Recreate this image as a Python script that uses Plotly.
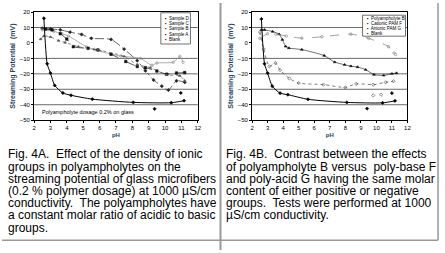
import plotly.graph_objects as go

# ---------------- data: Fig 4A ----------------
a_blank_x = [2.6, 2.8, 3.0, 3.26, 3.76, 4.26, 5.56, 8.06, 10.38, 11.16]
a_blank_y = [16, -13.5, -19.5, -27.5, -32.4, -33.9, -36.4, -38.5, -38.7, -37.4]
a_blank_out_x = [9.36, 10.96]
a_blank_out_y = [-42.7, -32.4]

a_d_x = [2.5, 3.0, 3.6, 4.2, 4.9, 5.5, 6.7, 7.5, 8.3, 8.8, 9.3, 9.8, 10.2, 10.7, 11.2]
a_d_y = [9.5, 9.0, 8.5, 7.0, 5.5, 3.0, 2.3, -4.0, -11.5, -18.0, -24.0, -28.0, -30.5, -24.5, -25.5]

a_c_x = [2.5, 3.2, 3.7, 4.1, 5.2, 5.7, 7.3, 8.5, 9.2, 9.5, 10.5, 10.9, 11.1]
a_c_y = [8.5, 7.5, 6.0, 4.5, -2.5, -4.5, -8.5, -10.0, -14.5, -13.0, -12.5, -8.7, -12.5]

a_b_x = [2.7, 3.1, 3.6, 4.0, 4.4, 5.3, 5.9, 6.7, 7.6, 8.3, 8.8, 9.5, 10.1, 10.7, 11.2]
a_b_y = [9.0, 8.5, 6.0, 2.5, -2.4, -3.5, -4.5, -7.3, -12.0, -15.2, -16.0, -18.2, -20.2, -19.5, -19.2]

a_a_x = [2.4, 2.6, 3.0, 3.5, 3.9, 4.7, 5.9, 7.5, 8.3, 9.1, 10.1, 10.9, 11.2]
a_a_y = [2.5, 4.5, 3.9, 1.5, 0.3, -2.4, -4.5, -8.7, -14.0, -16.0, -20.7, -21.3, -24.4]

# ---------------- data: Fig 4B ----------------
b_b_x = [2.6, 2.8, 3.32, 3.74, 3.95, 4.16, 4.37, 5.2, 6.64, 7.32, 7.95, 8.36, 8.79, 9.31, 9.84, 10.47, 11.0, 11.3]
b_b_y = [8.5, 8.5, 7.4, 5.7, 2.1, -2.2, -3.3, -4.3, -8.2, -12.4, -14.1, -15.0, -15.6, -17.3, -20.5, -21.0, -19.9, -19.5]

b_f_x = [2.5, 3.0, 3.53, 4.2, 5.2, 6.5, 8.36, 9.5, 10.78, 11.14, 11.24]
b_f_y = [3.0, 6.0, 5.7, 4.5, 3.1, 4.0, 5.7, 3.0, -2.4, -6.5, -7.5]

b_g_x = [2.5, 2.75, 3.11, 3.5, 3.8, 4.4, 5.0, 6.6, 8.0, 8.7, 9.8, 10.6, 11.1]
b_g_y = [7.0, -4.0, -15.2, -13.0, -17.5, -23.0, -26.0, -27.0, -28.8, -26.5, -27.0, -25.5, -24.8]
b_g_out_x = [9.8, 10.3]
b_g_out_y = [-34.0, -33.5]

b_blank_x = [2.6, 2.8, 3.0, 3.3, 3.8, 4.3, 5.6, 8.1, 10.4, 11.2]
b_blank_y = [15.5, -13.5, -19.5, -28.0, -32.5, -33.5, -36.5, -38.5, -38.8, -37.5]
b_blank_out_x = [9.4, 11.0]
b_blank_out_y = [-42.5, -32.5]

x_ticks = [2, 3, 4, 5, 6, 7, 8, 9, 10, 11, 12]
y_ticks = [20, 10, 0, -10, -20, -30, -40, -50]
grid_vals = [10, -10, -20, -30, -40]

legend_a = ["Sample D", "Sample C", "Sample B", "Sample A", "Blank"]
legend_b = ["Polyampholyte B", "Cationic PAM F", "Anionic PAM G", "Blank"]

caption_a = [
    "Fig. 4A.  Effect of the density of ionic",
    "groups in polyampholytes on the",
    "streaming potential of glass microfibers",
    "(0.2 % polymer dosage) at 1000 µS/cm",
    "conductivity.  The polyampholytes have",
    "a constant molar ratio of acidic to basic",
    "groups.",
]
caption_b = [
    "Fig. 4B.  Contrast between the effects",
    "of polyampholyte B versus  poly-base F",
    "and poly-acid G having the same molar",
    "content of either positive or negative",
    "groups.  Tests were performed at 1000",
    "µS/cm conductivity.",
]

W, H = 445, 253
FONT = "Liberation Sans, Arial, sans-serif"
fig = go.Figure()


def add(x, y, xa, ya, dash="solid", color="black", sym="circle", msize=2.5, mode="lines+markers", lw=0.7):
    fig.add_trace(go.Scatter(
        x=x, y=y, xaxis=xa, yaxis=ya, mode=mode,
        line=dict(color=color, width=lw, dash=dash, shape="spline", smoothing=0.6),
        marker=dict(symbol=sym, size=msize, color=color, line=dict(color=color, width=0.6)),
        showlegend=False, hoverinfo="skip"))


# Fig A
add(a_d_x, a_d_y, "x", "y", dash="dashdot", color="#222", sym="diamond")
add(a_c_x, a_c_y, "x", "y", dash="solid", color="#888", sym="circle-open")
add(a_b_x, a_b_y, "x", "y", dash="dash", color="#111", sym="square")
add(a_a_x, a_a_y, "x", "y", dash="dot", color="#555", sym="triangle-up")
add(a_blank_x, a_blank_y, "x", "y", dash="solid", color="black", sym="diamond", lw=1)
add(a_blank_out_x, a_blank_out_y, "x", "y", color="black", sym="diamond", mode="markers")

# Fig B
add(b_b_x, b_b_y, "x2", "y2", dash="solid", color="#111", sym="triangle-up", lw=0.6)
add(b_f_x, b_f_y, "x2", "y2", dash="dash", color="#777", sym="circle-open")
add(b_g_x, b_g_y, "x2", "y2", dash="dot", color="#444", sym="diamond-open")
add(b_g_out_x, b_g_out_y, "x2", "y2", color="#444", sym="diamond-open", mode="markers")
add(b_blank_x, b_blank_y, "x2", "y2", dash="solid", color="black", sym="diamond", lw=1)
add(b_blank_out_x, b_blank_out_y, "x2", "y2", color="black", sym="diamond", mode="markers")

# plot geometry (pixels)
A_L, A_R = 32.5, 198.5
B_L, B_R = 253.5, 411.0
P_T, P_B = 9.3, 120.0


def px(v):
    return v / W


def py(v):
    return 1 - v / H


tickfont = dict(family=FONT, size=6, color="black")
axis_common = dict(range=[2, 12], tickvals=x_ticks, showline=True, linecolor="black", linewidth=1,
                   mirror=True, ticks="outside", ticklen=2, tickcolor="black", showgrid=False,
                   zeroline=False, tickfont=tickfont, title=dict(text="<b>pH</b>", font=dict(family=FONT, size=6), standoff=2))
yaxis_common = dict(range=[-50, 20], tickvals=y_ticks, showline=True, linecolor="black", linewidth=1,
                    mirror=True, ticks="outside", ticklen=2, tickcolor="black", showgrid=False,
                    zeroline=False, tickfont=tickfont,
                    title=dict(text="<b>Streaming Potential  (mV)</b>", font=dict(family=FONT, size=7), standoff=3))

fig.update_layout(
    width=W, height=H, margin=dict(l=0, r=0, t=0, b=0),
    paper_bgcolor="white", plot_bgcolor="white",
    xaxis=dict(domain=[px(A_L), px(A_R)], anchor="y", **axis_common),
    yaxis=dict(domain=[py(P_B), py(P_T)], anchor="x", **yaxis_common),
    xaxis2=dict(domain=[px(B_L), px(B_R)], anchor="y2", **axis_common),
    yaxis2=dict(domain=[py(P_B), py(P_T)], anchor="x2", **yaxis_common),
)

shapes = []
for xa, ya in (("x", "y"), ("x2", "y2")):
    for g in grid_vals:
        shapes.append(dict(type="line", xref=xa + " domain", yref=ya, x0=0, x1=1, y0=g, y1=g,
                           line=dict(color="#444", width=0.8), layer="below"))

# table borders
shapes.append(dict(type="line", xref="paper", yref="paper", x0=px(221.5), x1=px(221.5), y0=0, y1=1,
                   line=dict(color="#999", width=2)))
shapes.append(dict(type="line", xref="paper", yref="paper", x0=px(442), x1=px(442), y0=py(243), y1=1,
                   line=dict(color="#999", width=1.5)))
shapes.append(dict(type="line", xref="paper", yref="paper", x0=0, x1=px(442), y0=py(243), y1=py(243),
                   line=dict(color="#999", width=1.5)))

# legend boxes
shapes.append(dict(type="rect", xref="paper", yref="paper", x0=px(161), x1=px(191), y0=py(42), y1=py(10),
                   line=dict(color="#333", width=0.7), fillcolor="white"))
shapes.append(dict(type="rect", xref="paper", yref="paper", x0=px(365.5), x1=px(409), y0=py(34), y1=py(12.5),
                   line=dict(color="#333", width=0.7), fillcolor="white"))

fig.update_layout(shapes=shapes)

ann = []
leg_font = dict(family=FONT, size=4.5, color="black")
for i, name in enumerate(legend_a):
    ann.append(dict(x=px(163.5), y=py(15.5 + i * 5.5), xref="paper", yref="paper", xanchor="left", yanchor="middle",
                    text="▪  " + name, showarrow=False, font=leg_font))
for i, name in enumerate(legend_b):
    ann.append(dict(x=px(367.5), y=py(16 + i * 5.0), xref="paper", yref="paper", xanchor="left", yanchor="middle",
                    text="▪  " + name, showarrow=False, font=leg_font))

ann.append(dict(x=px(39), y=py(111.7), xref="paper", yref="paper", xanchor="left", yanchor="middle",
                text="Polyampholyte dosage 0.2% on glass", showarrow=False,
                font=dict(family=FONT, size=5.5, color="black")))

cap_font = dict(family=FONT, size=12, color="black")
for i, line in enumerate(caption_a):
    ann.append(dict(x=px(4.5), y=py(155 + i * 12.5), xref="paper", yref="paper", xanchor="left", yanchor="middle",
                    text=line, showarrow=False, font=cap_font))
for i, line in enumerate(caption_b):
    ann.append(dict(x=px(225), y=py(155 + i * 12.5), xref="paper", yref="paper", xanchor="left", yanchor="middle",
                    text=line, showarrow=False, font=cap_font))

fig.update_layout(annotations=ann)
fig.write_html("out.html")
